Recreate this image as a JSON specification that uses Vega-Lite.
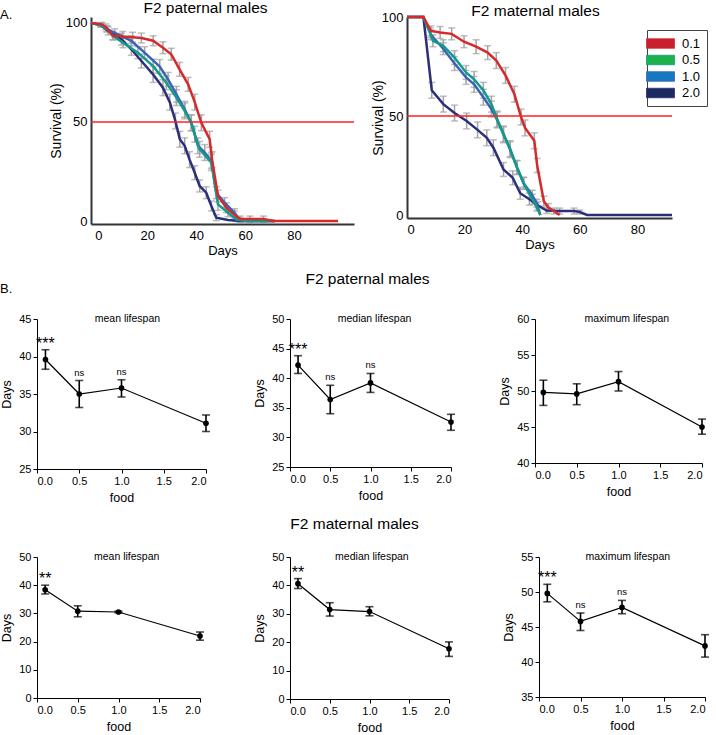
{
"$schema": "https://vega.github.io/schema/vega-lite/v6.json",
"padding": {"left": 0, "top": 1, "right": 0, "bottom": 0},
"autosize": {"type": "pad"},
"config": {
  "font": "Liberation Sans",
  "view": {"stroke": null},
  "axis": {"grid": false, "domainColor": "black", "tickColor": "black", "labelColor": "black", "titleColor": "black", "titleFontWeight": "normal", "labelFontSize": 11, "titleFontSize": 12.5, "tickSize": 4, "labelPadding": 2, "titlePadding": 5, "domainWidth": 1, "tickWidth": 1},
  "title": {"fontWeight": "normal", "fontSize": 15.5, "color": "black"},
  "text": {"color": "black"}
},
"datasets": {
  "surv": [
    {"panel":"pat","food":"2.0","day":-3,"surv":100,"err":0},
    {"panel":"pat","food":"2.0","day":1,"surv":99,"err":1},
    {"panel":"pat","food":"2.0","day":4,"surv":96,"err":2},
    {"panel":"pat","food":"2.0","day":9.4,"surv":91.8,"err":3},
    {"panel":"pat","food":"2.0","day":13.5,"surv":86.7,"err":3},
    {"panel":"pat","food":"2.0","day":17.6,"surv":80.8,"err":3.5},
    {"panel":"pat","food":"2.0","day":22.4,"surv":74,"err":4},
    {"panel":"pat","food":"2.0","day":26.4,"surv":67.3,"err":4},
    {"panel":"pat","food":"2.0","day":29.2,"surv":60,"err":4},
    {"panel":"pat","food":"2.0","day":31.5,"surv":50.5,"err":4},
    {"panel":"pat","food":"2.0","day":33.3,"surv":41.3,"err":4},
    {"panel":"pat","food":"2.0","day":35.3,"surv":38,"err":4},
    {"panel":"pat","food":"2.0","day":37.3,"surv":31,"err":4},
    {"panel":"pat","food":"2.0","day":39.4,"surv":24.4,"err":3.5},
    {"panel":"pat","food":"2.0","day":41.4,"surv":17.7,"err":3},
    {"panel":"pat","food":"2.0","day":44.1,"surv":14.3,"err":3},
    {"panel":"pat","food":"2.0","day":46.2,"surv":7.6,"err":2.5},
    {"panel":"pat","food":"2.0","day":48.2,"surv":1.7,"err":1.5},
    {"panel":"pat","food":"2.0","day":53,"surv":0.5,"err":0},
    {"panel":"pat","food":"2.0","day":58.4,"surv":0,"err":0},
    {"panel":"pat","food":"2.0","day":72,"surv":0,"err":0},
    {"panel":"pat","food":"1.0","day":-3,"surv":100,"err":0},
    {"panel":"pat","food":"1.0","day":1,"surv":99,"err":1},
    {"panel":"pat","food":"1.0","day":3.5,"surv":97,"err":1.5},
    {"panel":"pat","food":"1.0","day":6.7,"surv":95,"err":2},
    {"panel":"pat","food":"1.0","day":13.5,"surv":91,"err":2.5},
    {"panel":"pat","food":"1.0","day":18.9,"surv":85,"err":3},
    {"panel":"pat","food":"1.0","day":25.1,"surv":78,"err":3.5},
    {"panel":"pat","food":"1.0","day":28.5,"surv":71.5,"err":3.5},
    {"panel":"pat","food":"1.0","day":31.9,"surv":64,"err":4},
    {"panel":"pat","food":"1.0","day":35.3,"surv":56.4,"err":4},
    {"panel":"pat","food":"1.0","day":38,"surv":49.6,"err":4},
    {"panel":"pat","food":"1.0","day":40.7,"surv":38,"err":4},
    {"panel":"pat","food":"1.0","day":43.5,"surv":34.6,"err":4},
    {"panel":"pat","food":"1.0","day":46.2,"surv":30.4,"err":4},
    {"panel":"pat","food":"1.0","day":48.2,"surv":14.3,"err":3},
    {"panel":"pat","food":"1.0","day":51.6,"surv":9.3,"err":2.5},
    {"panel":"pat","food":"1.0","day":55.7,"surv":4.2,"err":2},
    {"panel":"pat","food":"1.0","day":57.8,"surv":0.5,"err":1},
    {"panel":"pat","food":"1.0","day":60,"surv":0,"err":0},
    {"panel":"pat","food":"1.0","day":72,"surv":0,"err":0},
    {"panel":"pat","food":"0.5","day":-3,"surv":100,"err":0},
    {"panel":"pat","food":"0.5","day":1,"surv":99,"err":1},
    {"panel":"pat","food":"0.5","day":3.5,"surv":97,"err":1.5},
    {"panel":"pat","food":"0.5","day":6,"surv":93.4,"err":2},
    {"panel":"pat","food":"0.5","day":10.1,"surv":90,"err":2.5},
    {"panel":"pat","food":"0.5","day":16.2,"surv":85,"err":3},
    {"panel":"pat","food":"0.5","day":22.4,"surv":78.2,"err":3.5},
    {"panel":"pat","food":"0.5","day":27.8,"surv":69.8,"err":3.5},
    {"panel":"pat","food":"0.5","day":31.9,"surv":62.3,"err":4},
    {"panel":"pat","food":"0.5","day":35.3,"surv":55.6,"err":4},
    {"panel":"pat","food":"0.5","day":38,"surv":49.6,"err":4},
    {"panel":"pat","food":"0.5","day":39.4,"surv":43.8,"err":4},
    {"panel":"pat","food":"0.5","day":41.4,"surv":36.2,"err":4},
    {"panel":"pat","food":"0.5","day":46.2,"surv":29.5,"err":4},
    {"panel":"pat","food":"0.5","day":48.9,"surv":8.4,"err":3},
    {"panel":"pat","food":"0.5","day":53,"surv":4.2,"err":2},
    {"panel":"pat","food":"0.5","day":56.4,"surv":0.8,"err":1},
    {"panel":"pat","food":"0.5","day":61.2,"surv":0,"err":0},
    {"panel":"pat","food":"0.5","day":72,"surv":0,"err":0},
    {"panel":"pat","food":"0.1","day":-3,"surv":100,"err":0},
    {"panel":"pat","food":"0.1","day":1.5,"surv":99.3,"err":1},
    {"panel":"pat","food":"0.1","day":3,"surv":98,"err":1.5},
    {"panel":"pat","food":"0.1","day":6,"surv":93.5,"err":2},
    {"panel":"pat","food":"0.1","day":10,"surv":93.2,"err":2.5},
    {"panel":"pat","food":"0.1","day":14,"surv":92.8,"err":2.5},
    {"panel":"pat","food":"0.1","day":17.6,"surv":92.4,"err":2.5},
    {"panel":"pat","food":"0.1","day":22.4,"surv":91,"err":2.5},
    {"panel":"pat","food":"0.1","day":26.4,"surv":87.5,"err":3},
    {"panel":"pat","food":"0.1","day":29.8,"surv":84.2,"err":3},
    {"panel":"pat","food":"0.1","day":33.2,"surv":76.6,"err":3.5},
    {"panel":"pat","food":"0.1","day":36.7,"surv":69,"err":3.5},
    {"panel":"pat","food":"0.1","day":39.4,"surv":60,"err":4},
    {"panel":"pat","food":"0.1","day":42.1,"surv":49.6,"err":4},
    {"panel":"pat","food":"0.1","day":45.5,"surv":41.3,"err":4},
    {"panel":"pat","food":"0.1","day":46.5,"surv":31,"err":4},
    {"panel":"pat","food":"0.1","day":48.9,"surv":12.6,"err":3},
    {"panel":"pat","food":"0.1","day":52.3,"surv":6.7,"err":2.5},
    {"panel":"pat","food":"0.1","day":55.7,"surv":3,"err":2},
    {"panel":"pat","food":"0.1","day":58,"surv":1,"err":1.5},
    {"panel":"pat","food":"0.1","day":62,"surv":1,"err":1.5},
    {"panel":"pat","food":"0.1","day":67.5,"surv":1,"err":1.5},
    {"panel":"pat","food":"0.1","day":71.5,"surv":0,"err":0},
    {"panel":"pat","food":"0.1","day":98,"surv":0,"err":0},
    {"panel":"mat","food":"2.0","day":0,"surv":100,"err":0},
    {"panel":"mat","food":"2.0","day":5.7,"surv":100,"err":0},
    {"panel":"mat","food":"2.0","day":8.6,"surv":63,"err":4},
    {"panel":"mat","food":"2.0","day":12.6,"surv":56,"err":4},
    {"panel":"mat","food":"2.0","day":16.5,"surv":51.5,"err":4},
    {"panel":"mat","food":"2.0","day":20.7,"surv":47.5,"err":4},
    {"panel":"mat","food":"2.0","day":24.5,"surv":43,"err":4},
    {"panel":"mat","food":"2.0","day":27.7,"surv":39,"err":4},
    {"panel":"mat","food":"2.0","day":30,"surv":34,"err":4},
    {"panel":"mat","food":"2.0","day":33.5,"surv":23,"err":3.5},
    {"panel":"mat","food":"2.0","day":36.7,"surv":18.8,"err":3.5},
    {"panel":"mat","food":"2.0","day":39.3,"surv":11,"err":3},
    {"panel":"mat","food":"2.0","day":42.5,"surv":8,"err":3},
    {"panel":"mat","food":"2.0","day":45.5,"surv":4.8,"err":2},
    {"panel":"mat","food":"2.0","day":48.5,"surv":2.3,"err":1.5},
    {"panel":"mat","food":"2.0","day":53,"surv":2,"err":1.5},
    {"panel":"mat","food":"2.0","day":58,"surv":2,"err":1.5},
    {"panel":"mat","food":"2.0","day":60,"surv":1.5,"err":1},
    {"panel":"mat","food":"2.0","day":62.5,"surv":0,"err":0},
    {"panel":"mat","food":"2.0","day":92,"surv":0,"err":0},
    {"panel":"mat","food":"1.0","day":0,"surv":100,"err":0},
    {"panel":"mat","food":"1.0","day":5.7,"surv":100,"err":0},
    {"panel":"mat","food":"1.0","day":8.3,"surv":91,"err":2.5},
    {"panel":"mat","food":"1.0","day":12.6,"surv":84,"err":3},
    {"panel":"mat","food":"1.0","day":16.5,"surv":76.5,"err":3.5},
    {"panel":"mat","food":"1.0","day":20.5,"surv":69.5,"err":3.5},
    {"panel":"mat","food":"1.0","day":23.3,"surv":66,"err":4},
    {"panel":"mat","food":"1.0","day":26.5,"surv":59.5,"err":4},
    {"panel":"mat","food":"1.0","day":29.3,"surv":53.5,"err":4},
    {"panel":"mat","food":"1.0","day":31.3,"surv":48,"err":4},
    {"panel":"mat","food":"1.0","day":33.5,"surv":41,"err":4},
    {"panel":"mat","food":"1.0","day":35.8,"surv":33,"err":4},
    {"panel":"mat","food":"1.0","day":38.2,"surv":24,"err":3.5},
    {"panel":"mat","food":"1.0","day":40.5,"surv":16,"err":3},
    {"panel":"mat","food":"1.0","day":43.5,"surv":10,"err":2.5},
    {"panel":"mat","food":"1.0","day":45,"surv":6,"err":2},
    {"panel":"mat","food":"1.0","day":46.3,"surv":0,"err":0},
    {"panel":"mat","food":"0.5","day":0,"surv":100,"err":0},
    {"panel":"mat","food":"0.5","day":5.7,"surv":100,"err":0},
    {"panel":"mat","food":"0.5","day":8,"surv":92,"err":2.5},
    {"panel":"mat","food":"0.5","day":9,"surv":88,"err":3},
    {"panel":"mat","food":"0.5","day":12.6,"surv":85.5,"err":3},
    {"panel":"mat","food":"0.5","day":16.5,"surv":79.5,"err":3.5},
    {"panel":"mat","food":"0.5","day":20.5,"surv":72,"err":3.5},
    {"panel":"mat","food":"0.5","day":23.3,"surv":68.5,"err":4},
    {"panel":"mat","food":"0.5","day":26.5,"surv":63,"err":4},
    {"panel":"mat","food":"0.5","day":29.3,"surv":56,"err":4},
    {"panel":"mat","food":"0.5","day":31.3,"surv":48.5,"err":4},
    {"panel":"mat","food":"0.5","day":33.5,"surv":40.5,"err":4},
    {"panel":"mat","food":"0.5","day":35.8,"surv":33.5,"err":4},
    {"panel":"mat","food":"0.5","day":38.2,"surv":24,"err":3.5},
    {"panel":"mat","food":"0.5","day":40.5,"surv":16,"err":3},
    {"panel":"mat","food":"0.5","day":43.5,"surv":8,"err":2.5},
    {"panel":"mat","food":"0.5","day":45,"surv":4,"err":2},
    {"panel":"mat","food":"0.5","day":46.3,"surv":0,"err":0},
    {"panel":"mat","food":"0.1","day":0,"surv":100,"err":0},
    {"panel":"mat","food":"0.1","day":5.7,"surv":100,"err":0},
    {"panel":"mat","food":"0.1","day":8.3,"surv":93,"err":2.5},
    {"panel":"mat","food":"0.1","day":11.5,"surv":92.2,"err":3},
    {"panel":"mat","food":"0.1","day":15.5,"surv":91.5,"err":3},
    {"panel":"mat","food":"0.1","day":19.8,"surv":87.5,"err":3},
    {"panel":"mat","food":"0.1","day":24,"surv":85,"err":3.5},
    {"panel":"mat","food":"0.1","day":28,"surv":82,"err":3.5},
    {"panel":"mat","food":"0.1","day":31,"surv":78,"err":4},
    {"panel":"mat","food":"0.1","day":34.2,"surv":70.5,"err":4},
    {"panel":"mat","food":"0.1","day":37.3,"surv":61,"err":4},
    {"panel":"mat","food":"0.1","day":39.6,"surv":49.5,"err":4},
    {"panel":"mat","food":"0.1","day":41,"surv":44,"err":4},
    {"panel":"mat","food":"0.1","day":44.2,"surv":37.5,"err":4},
    {"panel":"mat","food":"0.1","day":45.2,"surv":25,"err":3.5},
    {"panel":"mat","food":"0.1","day":47.5,"surv":7,"err":2.5},
    {"panel":"mat","food":"0.1","day":49.1,"surv":3.8,"err":2},
    {"panel":"mat","food":"0.1","day":51,"surv":2,"err":1.5},
    {"panel":"mat","food":"0.1","day":53,"surv":0,"err":0}
  ],
  "life": [
    {"row":"pat","metric":"mean","food":0.1,"days":39.6,"lo":38.3,"hi":40.9,"sig":"***"},
    {"row":"pat","metric":"mean","food":0.5,"days":35.0,"lo":33.2,"hi":36.8,"sig":"ns"},
    {"row":"pat","metric":"mean","food":1.0,"days":35.8,"lo":34.6,"hi":36.9,"sig":"ns"},
    {"row":"pat","metric":"mean","food":2.0,"days":31.1,"lo":30.0,"hi":32.2,"sig":""},
    {"row":"pat","metric":"median","food":0.1,"days":42.2,"lo":40.8,"hi":43.8,"sig":"***"},
    {"row":"pat","metric":"median","food":0.5,"days":36.4,"lo":34.0,"hi":38.8,"sig":"ns"},
    {"row":"pat","metric":"median","food":1.0,"days":39.2,"lo":37.6,"hi":40.8,"sig":"ns"},
    {"row":"pat","metric":"median","food":2.0,"days":32.6,"lo":31.2,"hi":33.9,"sig":""},
    {"row":"pat","metric":"maximum","food":0.1,"days":49.8,"lo":48.0,"hi":51.5,"sig":""},
    {"row":"pat","metric":"maximum","food":0.5,"days":49.6,"lo":48.1,"hi":51.0,"sig":""},
    {"row":"pat","metric":"maximum","food":1.0,"days":51.3,"lo":50.0,"hi":52.7,"sig":""},
    {"row":"pat","metric":"maximum","food":2.0,"days":45.0,"lo":44.0,"hi":46.1,"sig":""},
    {"row":"mat","metric":"mean","food":0.1,"days":38.4,"lo":36.9,"hi":40.0,"sig":"**"},
    {"row":"mat","metric":"mean","food":0.5,"days":30.8,"lo":28.8,"hi":32.7,"sig":""},
    {"row":"mat","metric":"mean","food":1.0,"days":30.5,"lo":30.2,"hi":30.8,"sig":""},
    {"row":"mat","metric":"mean","food":2.0,"days":22.0,"lo":20.5,"hi":23.4,"sig":""},
    {"row":"mat","metric":"median","food":0.1,"days":40.6,"lo":38.9,"hi":42.4,"sig":"**"},
    {"row":"mat","metric":"median","food":0.5,"days":31.5,"lo":29.2,"hi":33.9,"sig":""},
    {"row":"mat","metric":"median","food":1.0,"days":30.8,"lo":29.3,"hi":32.5,"sig":""},
    {"row":"mat","metric":"median","food":2.0,"days":17.7,"lo":15.0,"hi":20.1,"sig":""},
    {"row":"mat","metric":"maximum","food":0.1,"days":49.8,"lo":48.6,"hi":51.1,"sig":"***"},
    {"row":"mat","metric":"maximum","food":0.5,"days":45.8,"lo":44.5,"hi":47.0,"sig":"ns"},
    {"row":"mat","metric":"maximum","food":1.0,"days":47.8,"lo":46.9,"hi":48.8,"sig":"ns"},
    {"row":"mat","metric":"maximum","food":2.0,"days":42.3,"lo":40.7,"hi":43.9,"sig":""}
  ]
},
"spacing": 14,
"vconcat": [
  {
    "bounds": "flush",
    "spacing": 53,
    "resolve": {"scale": {"stroke": "independent"}, "legend": {"stroke": "independent"}},
    "hconcat": [
      {"width": 1, "height": 1, "data": {"values": [{"s": 1}]}, "mark": {"type": "point", "opacity": 0}, "encoding": {}},
      {
        "width": 263, "height": 207,
        "title": {"text": "F2 paternal males", "offset": -8, "dx": -17, "frame": "group"},
        "data": {"name": "surv"},
        "layer": [
          {"transform": [{"filter": "datum.panel === 'pat' && datum.err > 0"}],
           "mark": {"type": "errorbar", "color": "#a3a3a3", "thickness": 1.5, "ticks": {"size": 7}},
           "encoding": {
             "x": {"field": "day", "type": "quantitative", "scale": {"domain": [-3, 104.5], "nice": false, "zero": false}, "axis": {"values": [0, 20, 40, 60, 80], "title": "Days", "ticks": false, "domainColor": "#333", "domainWidth": 2, "labelFontSize": 13, "labelPadding": 5, "titleFontSize": 13, "titlePadding": 2}},
             "y": {"field": "surv", "type": "quantitative", "scale": {"domain": [-1.5, 103], "nice": false, "zero": false}, "axis": {"values": [0, 50, 100], "title": "Survival (%)", "ticks": false, "domainColor": "#333", "domainWidth": 2, "labelFontSize": 13, "labelPadding": 4, "titleFontSize": 14, "titlePadding": 2}},
             "yError": {"field": "err"}
           }},
          {"transform": [{"filter": "datum.panel === 'pat'"}],
           "mark": {"type": "line", "strokeWidth": 2.5},
           "encoding": {
             "x": {"field": "day", "type": "quantitative", "scale": {"domain": [-3, 104.5], "nice": false, "zero": false}, "axis": {"values": [0, 20, 40, 60, 80], "title": "Days", "ticks": false, "domainColor": "#333", "domainWidth": 2, "labelFontSize": 13, "labelPadding": 5, "titleFontSize": 13, "titlePadding": 2}},
             "y": {"field": "surv", "type": "quantitative", "scale": {"domain": [-1.5, 103], "nice": false, "zero": false}, "axis": {"values": [0, 50, 100], "title": "Survival (%)", "ticks": false, "domainColor": "#333", "domainWidth": 2, "labelFontSize": 13, "labelPadding": 4, "titleFontSize": 14, "titlePadding": 2}},
             "stroke": {"field": "food", "type": "nominal", "scale": {"domain": ["0.1", "0.5", "1.0", "2.0"], "range": ["#d52a2c", "#139b8a", "#3b62b4", "#2b2f7a"]}, "legend": null}
           }},
          {"data": {"values": [{"level": 50}]},
           "mark": {"type": "rule", "color": "#ff2020", "strokeWidth": 1.3},
           "encoding": {"y": {"field": "level", "type": "quantitative"}}},
          {"data": {"values": [{"label": "A."}]},
           "mark": {"type": "text", "fontSize": 13, "align": "left", "baseline": "alphabetic", "dx": -91, "dy": -4},
           "encoding": {"x": {"datum": -3}, "y": {"datum": 100}, "text": {"field": "label"}}}
        ]
      },
      {
        "width": 265, "height": 201,
        "title": {"text": "F2 maternal males", "offset": -8, "dx": -4, "frame": "group"},
        "data": {"name": "surv"},
        "layer": [
          {"transform": [{"filter": "datum.panel === 'mat' && datum.err > 0"}],
           "mark": {"type": "errorbar", "color": "#a3a3a3", "thickness": 1.5, "ticks": {"size": 7}},
           "encoding": {
             "x": {"field": "day", "type": "quantitative", "scale": {"domain": [0, 92], "nice": false, "zero": false}, "axis": {"values": [0, 20, 40, 60, 80], "title": "Days", "ticks": false, "domainColor": "#333", "domainWidth": 2, "labelFontSize": 13, "labelPadding": 5, "titleFontSize": 13, "titlePadding": 2}},
             "y": {"field": "surv", "type": "quantitative", "scale": {"domain": [-1.5, 100], "nice": false, "zero": false}, "axis": {"values": [0, 50, 100], "title": "Survival (%)", "ticks": false, "domainColor": "#333", "domainWidth": 2, "labelFontSize": 13, "labelPadding": 4, "titleFontSize": 14, "titlePadding": -4}},
             "yError": {"field": "err"}
           }},
          {"transform": [{"filter": "datum.panel === 'mat'"}],
           "mark": {"type": "line", "strokeWidth": 2.5},
           "encoding": {
             "x": {"field": "day", "type": "quantitative", "scale": {"domain": [0, 92], "nice": false, "zero": false}, "axis": {"values": [0, 20, 40, 60, 80], "title": "Days", "ticks": false, "domainColor": "#333", "domainWidth": 2, "labelFontSize": 13, "labelPadding": 5, "titleFontSize": 13, "titlePadding": 2}},
             "y": {"field": "surv", "type": "quantitative", "scale": {"domain": [-1.5, 100], "nice": false, "zero": false}, "axis": {"values": [0, 50, 100], "title": "Survival (%)", "ticks": false, "domainColor": "#333", "domainWidth": 2, "labelFontSize": 13, "labelPadding": 4, "titleFontSize": 14, "titlePadding": -4}},
             "stroke": {"field": "food", "type": "nominal", "scale": {"domain": ["0.1", "0.5", "1.0", "2.0"], "range": ["#d52a2c", "#139b8a", "#3b62b4", "#2b2f7a"]},
               "legend": {"orient": "none", "legendX": 240, "legendY": 13, "title": null, "symbolType": "M-2,-0.68H2V0.68H-2Z", "symbolSize": 196, "symbolStrokeWidth": 0.8, "labelFontSize": 13, "labelColor": "black", "labelOffset": 14, "rowPadding": 1.5, "padding": 6, "strokeColor": "#444",
                 "encode": {"symbols": {"update": {"fill": {"signal": "datum.value === '0.1' ? '#c9202f' : datum.value === '0.5' ? '#1cb14c' : datum.value === '1.0' ? '#1678c1' : '#1d2a60'"}, "fillOpacity": {"value": 1}, "opacity": {"value": 1}, "stroke": {"value": "#222"}, "strokeWidth": {"value": 0.8}}}}}}
           }},
          {"data": {"values": [{"level": 50}]},
           "mark": {"type": "rule", "color": "#ff2020", "strokeWidth": 1.3},
           "encoding": {"y": {"field": "level", "type": "quantitative"}}}
        ]
      }
    ]
  },
  {
    "spacing": 12,
    "vconcat": [
      {
        "bounds": "flush",
        "spacing": 84,
        "hconcat": [
          {
            "width": 169, "height": 150,
            "data": {"name": "life"},
            "layer": [
              {"transform": [{"filter": "datum.row === 'pat' && datum.metric === 'mean'"}], "mark": {"type": "errorbar", "color": "black", "thickness": 1.6, "ticks": {"size": 8}},
               "encoding": {"x": {"field": "food", "type": "quantitative", "scale": {"domain": [0, 2], "nice": false}, "axis": {"values": [0, 0.5, 1, 1.5, 2], "format": ".1f", "title": "food"}}, "y": {"field": "lo", "type": "quantitative", "scale": {"domain": [25, 45], "nice": false, "zero": false}, "axis": {"values": [25, 30, 35, 40, 45], "title": "Days"}}, "y2": {"field": "hi"}}},
              {"transform": [{"filter": "datum.row === 'pat' && datum.metric === 'mean'"}], "mark": {"type": "line", "color": "black", "strokeWidth": 1.2},
               "encoding": {"x": {"field": "food", "type": "quantitative", "scale": {"domain": [0, 2], "nice": false}, "axis": {"values": [0, 0.5, 1, 1.5, 2], "format": ".1f", "title": "food"}}, "y": {"field": "days", "type": "quantitative", "scale": {"domain": [25, 45], "nice": false, "zero": false}, "axis": {"values": [25, 30, 35, 40, 45], "title": "Days"}}}},
              {"transform": [{"filter": "datum.row === 'pat' && datum.metric === 'mean'"}], "mark": {"type": "point", "filled": true, "color": "black", "size": 32, "opacity": 1},
               "encoding": {"x": {"field": "food", "type": "quantitative", "scale": {"domain": [0, 2], "nice": false}, "axis": {"values": [0, 0.5, 1, 1.5, 2], "format": ".1f", "title": "food"}}, "y": {"field": "days", "type": "quantitative", "scale": {"domain": [25, 45], "nice": false, "zero": false}, "axis": {"values": [25, 30, 35, 40, 45], "title": "Days"}}}},
              {"transform": [{"filter": "datum.row === 'pat' && datum.metric === 'mean' && datum.sig === 'ns'"}], "mark": {"type": "text", "fontSize": 9.5, "baseline": "alphabetic", "dy": -5},
               "encoding": {"x": {"field": "food", "type": "quantitative", "scale": {"domain": [0, 2], "nice": false}, "axis": {"values": [0, 0.5, 1, 1.5, 2], "format": ".1f", "title": "food"}}, "y": {"field": "hi", "type": "quantitative", "scale": {"domain": [25, 45], "nice": false, "zero": false}, "axis": {"values": [25, 30, 35, 40, 45], "title": "Days"}}, "text": {"field": "sig"}}},
              {"transform": [{"filter": "datum.row === 'pat' && datum.metric === 'mean' && (datum.sig === '***' || datum.sig === '**')"}], "mark": {"type": "text", "fontSize": 16, "baseline": "alphabetic", "dy": -1},
               "encoding": {"x": {"field": "food", "type": "quantitative", "scale": {"domain": [0, 2], "nice": false}, "axis": {"values": [0, 0.5, 1, 1.5, 2], "format": ".1f", "title": "food"}}, "y": {"field": "hi", "type": "quantitative", "scale": {"domain": [25, 45], "nice": false, "zero": false}, "axis": {"values": [25, 30, 35, 40, 45], "title": "Days"}}, "text": {"field": "sig"}}},
              {"data": {"values": [{"label": "mean  lifespan"}]}, "mark": {"type": "text", "fontSize": 10.5, "baseline": "middle"},
               "encoding": {"x": {"datum": 1.07, "type": "quantitative", "scale": {"domain": [0, 2], "nice": false}, "axis": {"values": [0, 0.5, 1, 1.5, 2], "format": ".1f", "title": "food"}}, "y": {"datum": 45, "type": "quantitative", "scale": {"domain": [25, 45], "nice": false, "zero": false}, "axis": {"values": [25, 30, 35, 40, 45], "title": "Days"}}, "text": {"field": "label"}}},
              {"data": {"values": [{"label": "B."}]}, "mark": {"type": "text", "fontSize": 13, "align": "left", "baseline": "alphabetic", "dx": -37, "dy": -26},
               "encoding": {"x": {"datum": 0, "type": "quantitative", "scale": {"domain": [0, 2], "nice": false}, "axis": {"values": [0, 0.5, 1, 1.5, 2], "format": ".1f", "title": "food"}}, "y": {"datum": 45, "type": "quantitative", "scale": {"domain": [25, 45], "nice": false, "zero": false}, "axis": {"values": [25, 30, 35, 40, 45], "title": "Days"}}, "text": {"field": "label"}}}
            ]
          },
          {
            "width": 161, "height": 148,
            "title": {"text": "F2 paternal males", "offset": 26, "dx": -3, "frame": "group"},
            "data": {"name": "life"},
            "layer": [
              {"transform": [{"filter": "datum.row === 'pat' && datum.metric === 'median'"}], "mark": {"type": "errorbar", "color": "black", "thickness": 1.6, "ticks": {"size": 8}},
               "encoding": {"x": {"field": "food", "type": "quantitative", "scale": {"domain": [0, 2], "nice": false}, "axis": {"values": [0, 0.5, 1, 1.5, 2], "format": ".1f", "title": "food"}}, "y": {"field": "lo", "type": "quantitative", "scale": {"domain": [25, 50], "nice": false, "zero": false}, "axis": {"values": [25, 30, 35, 40, 45, 50], "title": "Days"}}, "y2": {"field": "hi"}}},
              {"transform": [{"filter": "datum.row === 'pat' && datum.metric === 'median'"}], "mark": {"type": "line", "color": "black", "strokeWidth": 1.2},
               "encoding": {"x": {"field": "food", "type": "quantitative", "scale": {"domain": [0, 2], "nice": false}, "axis": {"values": [0, 0.5, 1, 1.5, 2], "format": ".1f", "title": "food"}}, "y": {"field": "days", "type": "quantitative", "scale": {"domain": [25, 50], "nice": false, "zero": false}, "axis": {"values": [25, 30, 35, 40, 45, 50], "title": "Days"}}}},
              {"transform": [{"filter": "datum.row === 'pat' && datum.metric === 'median'"}], "mark": {"type": "point", "filled": true, "color": "black", "size": 32, "opacity": 1},
               "encoding": {"x": {"field": "food", "type": "quantitative", "scale": {"domain": [0, 2], "nice": false}, "axis": {"values": [0, 0.5, 1, 1.5, 2], "format": ".1f", "title": "food"}}, "y": {"field": "days", "type": "quantitative", "scale": {"domain": [25, 50], "nice": false, "zero": false}, "axis": {"values": [25, 30, 35, 40, 45, 50], "title": "Days"}}}},
              {"transform": [{"filter": "datum.row === 'pat' && datum.metric === 'median' && datum.sig === 'ns'"}], "mark": {"type": "text", "fontSize": 9.5, "baseline": "alphabetic", "dy": -5},
               "encoding": {"x": {"field": "food", "type": "quantitative", "scale": {"domain": [0, 2], "nice": false}, "axis": {"values": [0, 0.5, 1, 1.5, 2], "format": ".1f", "title": "food"}}, "y": {"field": "hi", "type": "quantitative", "scale": {"domain": [25, 50], "nice": false, "zero": false}, "axis": {"values": [25, 30, 35, 40, 45, 50], "title": "Days"}}, "text": {"field": "sig"}}},
              {"transform": [{"filter": "datum.row === 'pat' && datum.metric === 'median' && (datum.sig === '***' || datum.sig === '**')"}], "mark": {"type": "text", "fontSize": 16, "baseline": "alphabetic", "dy": -1},
               "encoding": {"x": {"field": "food", "type": "quantitative", "scale": {"domain": [0, 2], "nice": false}, "axis": {"values": [0, 0.5, 1, 1.5, 2], "format": ".1f", "title": "food"}}, "y": {"field": "hi", "type": "quantitative", "scale": {"domain": [25, 50], "nice": false, "zero": false}, "axis": {"values": [25, 30, 35, 40, 45, 50], "title": "Days"}}, "text": {"field": "sig"}}},
              {"data": {"values": [{"label": "median  lifespan"}]}, "mark": {"type": "text", "fontSize": 10.5, "baseline": "middle"},
               "encoding": {"x": {"datum": 1.05, "type": "quantitative", "scale": {"domain": [0, 2], "nice": false}, "axis": {"values": [0, 0.5, 1, 1.5, 2], "format": ".1f", "title": "food"}}, "y": {"datum": 50, "type": "quantitative", "scale": {"domain": [25, 50], "nice": false, "zero": false}, "axis": {"values": [25, 30, 35, 40, 45, 50], "title": "Days"}}, "text": {"field": "label"}}}
            ]
          },
          {
            "width": 167, "height": 144,
            "data": {"name": "life"},
            "layer": [
              {"transform": [{"filter": "datum.row === 'pat' && datum.metric === 'maximum'"}], "mark": {"type": "errorbar", "color": "black", "thickness": 1.6, "ticks": {"size": 8}},
               "encoding": {"x": {"field": "food", "type": "quantitative", "scale": {"domain": [0, 2], "nice": false}, "axis": {"values": [0, 0.5, 1, 1.5, 2], "format": ".1f", "title": "food"}}, "y": {"field": "lo", "type": "quantitative", "scale": {"domain": [40, 60], "nice": false, "zero": false}, "axis": {"values": [40, 45, 50, 55, 60], "title": "Days"}}, "y2": {"field": "hi"}}},
              {"transform": [{"filter": "datum.row === 'pat' && datum.metric === 'maximum'"}], "mark": {"type": "line", "color": "black", "strokeWidth": 1.2},
               "encoding": {"x": {"field": "food", "type": "quantitative", "scale": {"domain": [0, 2], "nice": false}, "axis": {"values": [0, 0.5, 1, 1.5, 2], "format": ".1f", "title": "food"}}, "y": {"field": "days", "type": "quantitative", "scale": {"domain": [40, 60], "nice": false, "zero": false}, "axis": {"values": [40, 45, 50, 55, 60], "title": "Days"}}}},
              {"transform": [{"filter": "datum.row === 'pat' && datum.metric === 'maximum'"}], "mark": {"type": "point", "filled": true, "color": "black", "size": 32, "opacity": 1},
               "encoding": {"x": {"field": "food", "type": "quantitative", "scale": {"domain": [0, 2], "nice": false}, "axis": {"values": [0, 0.5, 1, 1.5, 2], "format": ".1f", "title": "food"}}, "y": {"field": "days", "type": "quantitative", "scale": {"domain": [40, 60], "nice": false, "zero": false}, "axis": {"values": [40, 45, 50, 55, 60], "title": "Days"}}}},
              {"data": {"values": [{"label": "maximum  lifespan"}]}, "mark": {"type": "text", "fontSize": 10.5, "baseline": "middle"},
               "encoding": {"x": {"datum": 1.1, "type": "quantitative", "scale": {"domain": [0, 2], "nice": false}, "axis": {"values": [0, 0.5, 1, 1.5, 2], "format": ".1f", "title": "food"}}, "y": {"datum": 60, "type": "quantitative", "scale": {"domain": [40, 60], "nice": false, "zero": false}, "axis": {"values": [40, 45, 50, 55, 60], "title": "Days"}}, "text": {"field": "label"}}}
            ]
          }
        ]
      },
      {
        "bounds": "flush",
        "spacing": 90,
        "hconcat": [
          {
            "width": 163, "height": 141,
            "data": {"name": "life"},
            "layer": [
              {"transform": [{"filter": "datum.row === 'mat' && datum.metric === 'mean'"}], "mark": {"type": "errorbar", "color": "black", "thickness": 1.6, "ticks": {"size": 8}},
               "encoding": {"x": {"field": "food", "type": "quantitative", "scale": {"domain": [0, 2], "nice": false}, "axis": {"values": [0, 0.5, 1, 1.5, 2], "format": ".1f", "title": "food"}}, "y": {"field": "lo", "type": "quantitative", "scale": {"domain": [0, 50], "nice": false}, "axis": {"values": [0, 10, 20, 30, 40, 50], "title": "Days"}}, "y2": {"field": "hi"}}},
              {"transform": [{"filter": "datum.row === 'mat' && datum.metric === 'mean'"}], "mark": {"type": "line", "color": "black", "strokeWidth": 1.2},
               "encoding": {"x": {"field": "food", "type": "quantitative", "scale": {"domain": [0, 2], "nice": false}, "axis": {"values": [0, 0.5, 1, 1.5, 2], "format": ".1f", "title": "food"}}, "y": {"field": "days", "type": "quantitative", "scale": {"domain": [0, 50], "nice": false}, "axis": {"values": [0, 10, 20, 30, 40, 50], "title": "Days"}}}},
              {"transform": [{"filter": "datum.row === 'mat' && datum.metric === 'mean'"}], "mark": {"type": "point", "filled": true, "color": "black", "size": 32, "opacity": 1},
               "encoding": {"x": {"field": "food", "type": "quantitative", "scale": {"domain": [0, 2], "nice": false}, "axis": {"values": [0, 0.5, 1, 1.5, 2], "format": ".1f", "title": "food"}}, "y": {"field": "days", "type": "quantitative", "scale": {"domain": [0, 50], "nice": false}, "axis": {"values": [0, 10, 20, 30, 40, 50], "title": "Days"}}}},
              {"transform": [{"filter": "datum.row === 'mat' && datum.metric === 'mean' && (datum.sig === '***' || datum.sig === '**')"}], "mark": {"type": "text", "fontSize": 16, "baseline": "alphabetic", "dy": -1},
               "encoding": {"x": {"field": "food", "type": "quantitative", "scale": {"domain": [0, 2], "nice": false}, "axis": {"values": [0, 0.5, 1, 1.5, 2], "format": ".1f", "title": "food"}}, "y": {"field": "hi", "type": "quantitative", "scale": {"domain": [0, 50], "nice": false}, "axis": {"values": [0, 10, 20, 30, 40, 50], "title": "Days"}}, "text": {"field": "sig"}}},
              {"data": {"values": [{"label": "mean  lifespan"}]}, "mark": {"type": "text", "fontSize": 10.5, "baseline": "middle"},
               "encoding": {"x": {"datum": 1.1, "type": "quantitative", "scale": {"domain": [0, 2], "nice": false}, "axis": {"values": [0, 0.5, 1, 1.5, 2], "format": ".1f", "title": "food"}}, "y": {"datum": 50, "type": "quantitative", "scale": {"domain": [0, 50], "nice": false}, "axis": {"values": [0, 10, 20, 30, 40, 50], "title": "Days"}}, "text": {"field": "label"}}}
            ]
          },
          {
            "width": 159, "height": 142,
            "title": {"text": "F2 maternal males", "offset": 19, "dx": -15, "frame": "group"},
            "data": {"name": "life"},
            "layer": [
              {"transform": [{"filter": "datum.row === 'mat' && datum.metric === 'median'"}], "mark": {"type": "errorbar", "color": "black", "thickness": 1.6, "ticks": {"size": 8}},
               "encoding": {"x": {"field": "food", "type": "quantitative", "scale": {"domain": [0, 2], "nice": false}, "axis": {"values": [0, 0.5, 1, 1.5, 2], "format": ".1f", "title": "food"}}, "y": {"field": "lo", "type": "quantitative", "scale": {"domain": [0, 50], "nice": false}, "axis": {"values": [0, 10, 20, 30, 40, 50], "title": "Days"}}, "y2": {"field": "hi"}}},
              {"transform": [{"filter": "datum.row === 'mat' && datum.metric === 'median'"}], "mark": {"type": "line", "color": "black", "strokeWidth": 1.2},
               "encoding": {"x": {"field": "food", "type": "quantitative", "scale": {"domain": [0, 2], "nice": false}, "axis": {"values": [0, 0.5, 1, 1.5, 2], "format": ".1f", "title": "food"}}, "y": {"field": "days", "type": "quantitative", "scale": {"domain": [0, 50], "nice": false}, "axis": {"values": [0, 10, 20, 30, 40, 50], "title": "Days"}}}},
              {"transform": [{"filter": "datum.row === 'mat' && datum.metric === 'median'"}], "mark": {"type": "point", "filled": true, "color": "black", "size": 32, "opacity": 1},
               "encoding": {"x": {"field": "food", "type": "quantitative", "scale": {"domain": [0, 2], "nice": false}, "axis": {"values": [0, 0.5, 1, 1.5, 2], "format": ".1f", "title": "food"}}, "y": {"field": "days", "type": "quantitative", "scale": {"domain": [0, 50], "nice": false}, "axis": {"values": [0, 10, 20, 30, 40, 50], "title": "Days"}}}},
              {"transform": [{"filter": "datum.row === 'mat' && datum.metric === 'median' && (datum.sig === '***' || datum.sig === '**')"}], "mark": {"type": "text", "fontSize": 16, "baseline": "alphabetic", "dy": -1},
               "encoding": {"x": {"field": "food", "type": "quantitative", "scale": {"domain": [0, 2], "nice": false}, "axis": {"values": [0, 0.5, 1, 1.5, 2], "format": ".1f", "title": "food"}}, "y": {"field": "hi", "type": "quantitative", "scale": {"domain": [0, 50], "nice": false}, "axis": {"values": [0, 10, 20, 30, 40, 50], "title": "Days"}}, "text": {"field": "sig"}}},
              {"data": {"values": [{"label": "median  lifespan"}]}, "mark": {"type": "text", "fontSize": 10.5, "baseline": "middle"},
               "encoding": {"x": {"datum": 1.03, "type": "quantitative", "scale": {"domain": [0, 2], "nice": false}, "axis": {"values": [0, 0.5, 1, 1.5, 2], "format": ".1f", "title": "food"}}, "y": {"datum": 50, "type": "quantitative", "scale": {"domain": [0, 50], "nice": false}, "axis": {"values": [0, 10, 20, 30, 40, 50], "title": "Days"}}, "text": {"field": "label"}}}
            ]
          },
          {
            "width": 166, "height": 140,
            "data": {"name": "life"},
            "layer": [
              {"transform": [{"filter": "datum.row === 'mat' && datum.metric === 'maximum'"}], "mark": {"type": "errorbar", "color": "black", "thickness": 1.6, "ticks": {"size": 8}},
               "encoding": {"x": {"field": "food", "type": "quantitative", "scale": {"domain": [0, 2], "nice": false}, "axis": {"values": [0, 0.5, 1, 1.5, 2], "format": ".1f", "title": "food"}}, "y": {"field": "lo", "type": "quantitative", "scale": {"domain": [35, 55], "nice": false, "zero": false}, "axis": {"values": [35, 40, 45, 50, 55], "title": "Days"}}, "y2": {"field": "hi"}}},
              {"transform": [{"filter": "datum.row === 'mat' && datum.metric === 'maximum'"}], "mark": {"type": "line", "color": "black", "strokeWidth": 1.2},
               "encoding": {"x": {"field": "food", "type": "quantitative", "scale": {"domain": [0, 2], "nice": false}, "axis": {"values": [0, 0.5, 1, 1.5, 2], "format": ".1f", "title": "food"}}, "y": {"field": "days", "type": "quantitative", "scale": {"domain": [35, 55], "nice": false, "zero": false}, "axis": {"values": [35, 40, 45, 50, 55], "title": "Days"}}}},
              {"transform": [{"filter": "datum.row === 'mat' && datum.metric === 'maximum'"}], "mark": {"type": "point", "filled": true, "color": "black", "size": 32, "opacity": 1},
               "encoding": {"x": {"field": "food", "type": "quantitative", "scale": {"domain": [0, 2], "nice": false}, "axis": {"values": [0, 0.5, 1, 1.5, 2], "format": ".1f", "title": "food"}}, "y": {"field": "days", "type": "quantitative", "scale": {"domain": [35, 55], "nice": false, "zero": false}, "axis": {"values": [35, 40, 45, 50, 55], "title": "Days"}}}},
              {"transform": [{"filter": "datum.row === 'mat' && datum.metric === 'maximum' && datum.sig === 'ns'"}], "mark": {"type": "text", "fontSize": 9.5, "baseline": "alphabetic", "dy": -5},
               "encoding": {"x": {"field": "food", "type": "quantitative", "scale": {"domain": [0, 2], "nice": false}, "axis": {"values": [0, 0.5, 1, 1.5, 2], "format": ".1f", "title": "food"}}, "y": {"field": "hi", "type": "quantitative", "scale": {"domain": [35, 55], "nice": false, "zero": false}, "axis": {"values": [35, 40, 45, 50, 55], "title": "Days"}}, "text": {"field": "sig"}}},
              {"transform": [{"filter": "datum.row === 'mat' && datum.metric === 'maximum' && (datum.sig === '***' || datum.sig === '**')"}], "mark": {"type": "text", "fontSize": 16, "baseline": "alphabetic", "dy": -1},
               "encoding": {"x": {"field": "food", "type": "quantitative", "scale": {"domain": [0, 2], "nice": false}, "axis": {"values": [0, 0.5, 1, 1.5, 2], "format": ".1f", "title": "food"}}, "y": {"field": "hi", "type": "quantitative", "scale": {"domain": [35, 55], "nice": false, "zero": false}, "axis": {"values": [35, 40, 45, 50, 55], "title": "Days"}}, "text": {"field": "sig"}}},
              {"data": {"values": [{"label": "maximum  lifespan"}]}, "mark": {"type": "text", "fontSize": 10.5, "baseline": "middle"},
               "encoding": {"x": {"datum": 1.07, "type": "quantitative", "scale": {"domain": [0, 2], "nice": false}, "axis": {"values": [0, 0.5, 1, 1.5, 2], "format": ".1f", "title": "food"}}, "y": {"datum": 55, "type": "quantitative", "scale": {"domain": [35, 55], "nice": false, "zero": false}, "axis": {"values": [35, 40, 45, 50, 55], "title": "Days"}}, "text": {"field": "label"}}}
            ]
          }
        ]
      }
    ]
  }
]
}
